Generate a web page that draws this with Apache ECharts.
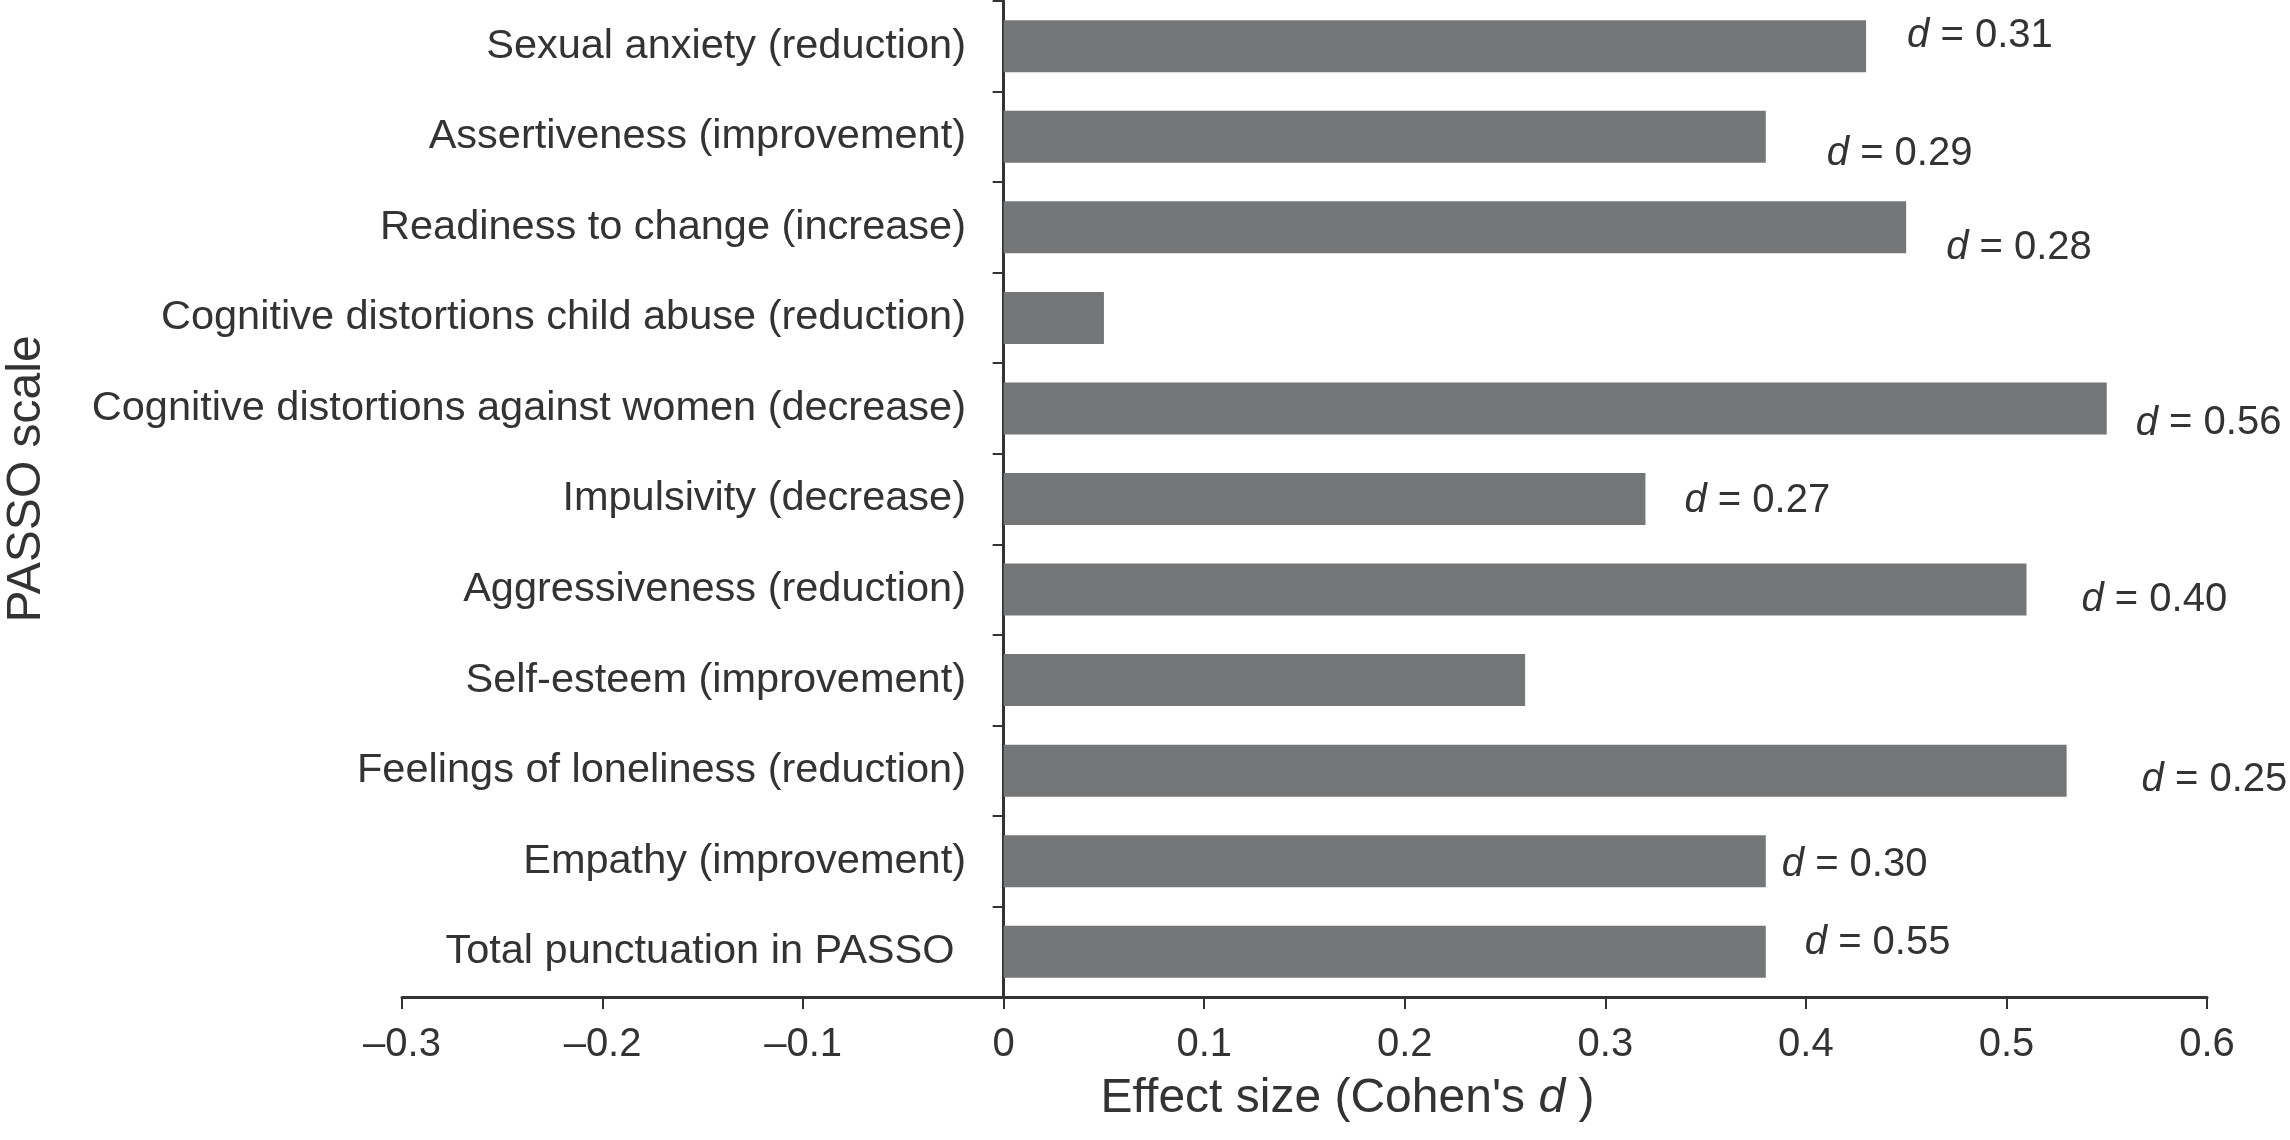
<!DOCTYPE html>
<html>
<head>
<meta charset="utf-8">
<script src="https://cdn.jsdelivr.net/npm/echarts@6/dist/echarts.min.js"></script>
<style>
html,body{margin:0;padding:0;background:#fff;}
#chart{width:2290px;height:1140px;}
</style>
</head>
<body>
<div id="chart"></div>
<script>
// ---- data ----
const categories = [
  'Sexual anxiety (reduction)',
  'Assertiveness (improvement)',
  'Readiness to change (increase)',
  'Cognitive distortions child abuse (reduction)',
  'Cognitive distortions against women (decrease)',
  'Impulsivity (decrease)',
  'Aggressiveness (reduction)',
  'Self-esteem (improvement)',
  'Feelings of loneliness (reduction)',
  'Empathy (improvement)',
  'Total punctuation in PASSO '
];
const barValues = [0.43, 0.38, 0.45, 0.05, 0.55, 0.32, 0.51, 0.26, 0.53, 0.38, 0.38];
const dLabels = ['0.31', '0.29', '0.28', null, '0.56', '0.27', '0.40', null, '0.25', '0.30', '0.55'];
const xTicks = { min: -0.3, max: 0.6, interval: 0.1 };

// ---- label placement (layout only) ----
const labelOffsets = [[41,-10],[61,17],[40,21],[0,0],[29,15],[39,2],[55,10],[0,0],[75,9],[16,4],[39,-9]];

const FONT = '"Liberation Sans", Arial, Helvetica, sans-serif';
const TXT = '#333333';

const seriesData = barValues.map((v, i) => {
  const item = { value: v };
  if (dLabels[i]) {
    item.label = {
      show: true,
      position: 'right',
      distance: 0,
      offset: labelOffsets[i],
      formatter: '{i|d} = ' + dLabels[i]
    };
  }
  return item;
});

const chart = echarts.init(document.getElementById('chart'), null, { renderer: 'canvas' });
chart.setOption({
  backgroundColor: '#ffffff',
  animation: false,
  grid: { left: 402, right: 83, top: 1, bottom: 143, containLabel: false, outerBoundsMode: 'none' },
  xAxis: {
    type: 'value',
    min: xTicks.min, max: xTicks.max, interval: xTicks.interval,
    splitLine: { show: false },
    axisLine: { show: true, lineStyle: { color: TXT, width: 3 } },
    axisTick: { show: true, length: 12, lineStyle: { color: TXT, width: 2 } },
    axisLabel: {
      color: TXT, fontFamily: FONT, fontSize: 40, margin: 28,
      formatter: v => { const r = Math.round(v * 10) / 10; return r < 0 ? '\u2013' + Math.abs(r) : String(r); }
    },
    name: 'Effect size (Cohen\'s {i|d} )',
    nameLocation: 'middle',
    nameGap: 78,
    nameTextStyle: {
      color: TXT, fontFamily: FONT, fontSize: 48, padding: [0, 0, 0, 86],
      rich: { i: { fontStyle: 'italic', fontFamily: FONT, fontSize: 48, color: TXT } }
    }
  },
  yAxis: {
    type: 'category',
    data: categories,
    inverse: true,
    axisLine: { show: true, onZero: true, lineStyle: { color: TXT, width: 3 } },
    axisTick: { show: true, length: 11, lineStyle: { color: TXT, width: 2 } },
    axisLabel: { color: TXT, fontFamily: FONT, fontSize: 41.5, margin: -564 },
    name: 'PASSO scale',
    nameLocation: 'middle',
    nameGap: 351,
    nameTextStyle: { color: TXT, fontFamily: FONT, fontSize: 48, padding: [0, 0, 0, 40] }
  },
  series: [{
    type: 'bar',
    data: seriesData,
    barWidth: 52,
    itemStyle: { color: '#757678' },
    label: {
      show: false,
      color: TXT, fontFamily: FONT, fontSize: 40,
      rich: { i: { fontStyle: 'italic', fontFamily: FONT, fontSize: 40, color: TXT } }
    }
  }]
});
</script>
</body>
</html>
